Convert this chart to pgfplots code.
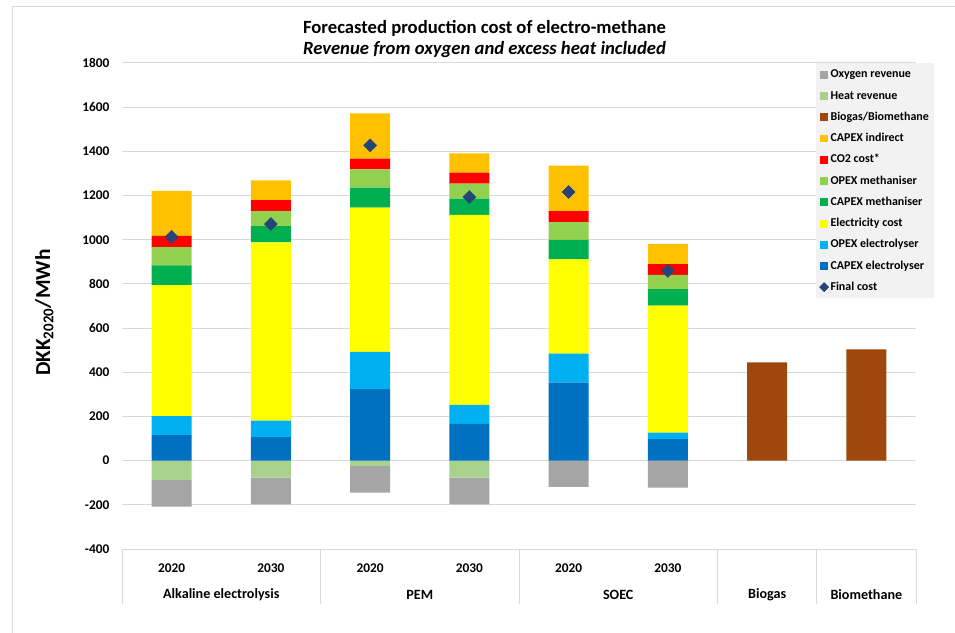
\documentclass[border=0pt]{standalone}
\usepackage{fontspec}
\setmainfont{Carlito}
\usepackage{pgfplots}
\usepackage{pgfplotstable}
\pgfplotsset{compat=1.18}

\definecolor{oxy}{HTML}{A5A5A5}
\definecolor{heat}{HTML}{A9D18E}
\definecolor{bio}{HTML}{9E480E}
\definecolor{capind}{HTML}{FFC000}
\definecolor{cotwo}{HTML}{FF0000}
\definecolor{opexme}{HTML}{92D050}
\definecolor{capexme}{HTML}{00B050}
\definecolor{elec}{HTML}{FFFF00}
\definecolor{opexel}{HTML}{00B0F0}
\definecolor{capexel}{HTML}{0070C0}
\definecolor{final}{HTML}{264478}
\definecolor{gridgray}{HTML}{D9D9D9}
\definecolor{legfill}{HTML}{F2F2F2}

% cost components, DKK2020/MWh (positive part of each stack)
\pgfplotstableread{
x capexel opexel elec capexme opexme cotwo capind bio
0 116  86 593 89 82 51 204   0
1 106  75 807 74 68 49  90   0
2 324 168 653 91 83 48 205   0
3 166  86 860 74 68 50  87   0
4 353 131 427 88 81 50 205   0
5  97  30 575 74 65 49  91   0
6   0   0   0  0  0  0   0 445
7   0   0   0  0  0  0   0 504
}\costs

% revenues (negative part of each stack)
\pgfplotstableread{
x heat oxy
0 -87 -121
1 -77 -121
2 -24 -121
3 -77 -121
4   0 -119
5   0 -122
6   0    0
7   0    0
}\revenues

% net production cost
\pgfplotstableread{
x final
0 1013
1 1071
2 1427
3 1193
4 1216
5  859
}\net

\pgfplotsset{
  frame/.style={
    at={(91.5pt,62.25pt)}, anchor=south west,
    scale only axis, width=595.5pt, height=364.5pt,
    xmin=-0.5, xmax=7.5, ymin=-400, ymax=1800,
  },
  seg/.style={fill=#1, draw=none},
  sq/.style={legend image code/.code={\fill[#1] (0pt,-2.6pt) rectangle (5.2pt,2.6pt);}},
}
\newcommand{\tickfont}{\fontsize{10}{12}\selectfont\bfseries}
\newcommand{\catfont}{\fontsize{10.6}{12}\selectfont\bfseries}
\newcommand{\legfont}{\fontsize{9}{11}\selectfont\bfseries}

\begin{document}
\begin{tikzpicture}
\useasboundingbox (0,0) rectangle (716.25pt,474pt);
\draw[gridgray, line width=0.75pt] (9pt,-1pt) -- (9pt,468.75pt) -- (717pt,468.75pt);

\node[anchor=base, font=\fontsize{14}{16}\selectfont\bfseries]
  at (363.4pt,448.5pt) {Forecasted production cost of electro-methane};
\node[anchor=base, font=\fontsize{14}{16}\selectfont\bfseries\itshape]
  at (363.4pt,432.75pt) {Revenue from oxygen and excess heat included};
\node[rotate=90, anchor=base, font=\fontsize{16}{18}\selectfont\bfseries]
  at (37.5pt,239.5pt) {DKK\textsubscript{2020}/MWh};

% grid, tick labels, category axis and revenues
\begin{axis}[frame, ybar stacked, bar width=0.403,
  axis line style={draw=none}, major tick length=0pt,
  ymajorgrids, grid style={gridgray, line width=0.75pt},
  ytick={-400,-200,...,1800},
  xtick={0,...,5}, xticklabels={2020,2030,2020,2030,2020,2030},
  tick label style={font=\tickfont},
  /pgf/number format/assume math mode=true,
  /pgf/number format/1000 sep={},
  yticklabel style={xshift=-6pt},
  xticklabel style={anchor=center, yshift=-14.25pt},
  clip=false]
\addplot[seg=heat] table[x=x, y=heat] {\revenues};
\addplot[seg=oxy]  table[x=x, y=oxy]  {\revenues};
\pgfplotsinvokeforeach{-0.5,1.5,3.5,5.5,6.5,7.5}{
  \draw[gridgray, line width=0.75pt] (axis cs:#1,-400) -- ++(0pt,-41.25pt);
}
\node[font=\catfont, yshift=-34.5pt] at (axis cs:0.5,-400) {Alkaline electrolysis};
\node[font=\catfont, yshift=-34.5pt] at (axis cs:2.5,-400) {PEM};
\node[font=\catfont, yshift=-34.5pt] at (axis cs:4.5,-400) {SOEC};
\node[font=\catfont, yshift=-34.5pt] at (axis cs:6,-400) {Biogas};
\node[font=\catfont, yshift=-34.5pt] at (axis cs:7,-400) {Biomethane};
\end{axis}

% cost stacks
\begin{axis}[frame, hide axis, ybar stacked, bar width=0.403]
\addplot[seg=capexel] table[x=x, y=capexel] {\costs};
\addplot[seg=opexel]  table[x=x, y=opexel]  {\costs};
\addplot[seg=elec]    table[x=x, y=elec]    {\costs};
\addplot[seg=capexme] table[x=x, y=capexme] {\costs};
\addplot[seg=opexme]  table[x=x, y=opexme]  {\costs};
\addplot[seg=cotwo]   table[x=x, y=cotwo]   {\costs};
\addplot[seg=capind]  table[x=x, y=capind]  {\costs};
\addplot[seg=bio]     table[x=x, y=bio]     {\costs};
\end{axis}

% final cost markers and legend
\begin{axis}[frame, hide axis,
  legend cell align=left,
  legend style={at={(0.8737,1.0)}, anchor=north west, fill=legfill, draw=none,
    font=\legfont, row sep=3.95pt, inner xsep=2.5pt, inner ysep=2.4pt,
    nodes={inner xsep=1.2pt, inner ysep=2pt},
    /tikz/every even column/.append style={text height=6.5pt, text depth=1.8pt}}]
\addplot[only marks, mark=square*, mark size=3.4pt,
  mark options={rotate=45, fill=final, draw=final}, forget plot]
  table[x=x, y=final] {\net};
\addlegendimage{sq=oxy}     \addlegendentry{Oxygen revenue}
\addlegendimage{sq=heat}    \addlegendentry{Heat revenue}
\addlegendimage{sq=bio}     \addlegendentry{Biogas/Biomethane}
\addlegendimage{sq=capind}  \addlegendentry{CAPEX indirect}
\addlegendimage{sq=cotwo}   \addlegendentry{CO2 cost*}
\addlegendimage{sq=opexme}  \addlegendentry{OPEX methaniser}
\addlegendimage{sq=capexme} \addlegendentry{CAPEX methaniser}
\addlegendimage{sq=elec}    \addlegendentry{Electricity cost}
\addlegendimage{sq=opexel}  \addlegendentry{OPEX electrolyser}
\addlegendimage{sq=capexel} \addlegendentry{CAPEX electrolyser}
\addlegendimage{legend image code/.code={\fill[final] (2.6pt,3.4pt) -- (6pt,0pt) -- (2.6pt,-3.4pt) -- (-0.8pt,0pt) -- cycle;}}
\addlegendentry{Final cost}
\end{axis}
\end{tikzpicture}
\end{document}
